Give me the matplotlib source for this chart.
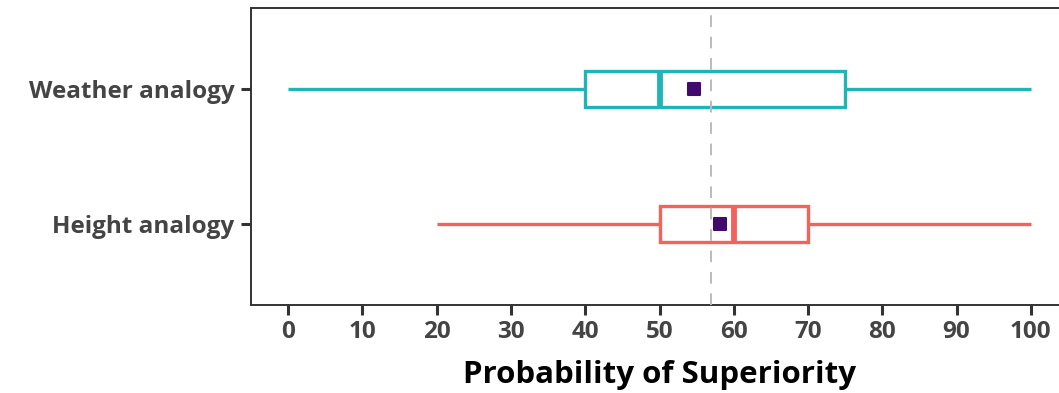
import matplotlib
matplotlib.use("Agg")
import matplotlib.pyplot as plt

# Box summaries (probability of superiority, %)
categories = ["Height analogy", "Weather analogy"]
whisker_lo = [20, 0]
q1 = [50, 40]
medians = [60, 50]
q3 = [70, 75]
whisker_hi = [100, 100]
means = [58.2, 54.6]
colors = ["#F4625C", "#1FB4B6"]
ref_line = 57
x_ticks = list(range(0, 101, 10))

plt.rcParams["font.family"] = ["Open Sans", "DejaVu Sans"]
plt.rcParams["font.weight"] = "bold"

fig = plt.figure(figsize=(10.59, 3.93), dpi=100)
ax = fig.add_axes([251 / 1059, 88 / 393, (1068 - 251) / 1059, (305 - 8) / 393])

positions = list(range(1, len(categories) + 1))
for pos, lo, a, m, b, hi, col in zip(positions, whisker_lo, q1, medians, q3, whisker_hi, colors):
    stats = [{"whislo": lo, "q1": a, "med": m, "q3": b, "whishi": hi, "fliers": []}]
    ax.bxp(
        stats,
        positions=[pos],
        widths=0.26,
        orientation="horizontal",
        patch_artist=True,
        showcaps=False,
        boxprops=dict(facecolor="white", edgecolor=col, linewidth=2.4),
        whiskerprops=dict(color=col, linewidth=2.4, solid_capstyle="butt"),
        medianprops=dict(color=col, linewidth=4.2, solid_capstyle="butt"),
        zorder=2,
    )

ax.axvline(ref_line, color="#BBBBBB", linewidth=1.4, linestyle=(0, (6, 5)), zorder=3)

ax.scatter(means, positions, marker="s", s=80, color="#430A6E", zorder=4,
           edgecolors="#430A6E", linewidths=1.5)

ax.set_xlim(-5, 105)
ax.set_ylim(0.4, len(categories) + 0.6)
ax.set_yticks(positions)
ax.set_yticklabels(categories)
ax.set_xticks(x_ticks)

ax.tick_params(axis="both", colors="#333333", width=2.2, length=7,
               labelcolor="#444444", labelsize=17.5)
ax.tick_params(axis="x", pad=4)
ax.tick_params(axis="y", pad=5)
for sp in ax.spines.values():
    sp.set_color("#333333")
    sp.set_linewidth(1.4)

ax.set_xlabel("Probability of Superiority", fontsize=22.5, fontweight="bold",
              color="black", labelpad=11)

fig.savefig("out.png", dpi=100)
